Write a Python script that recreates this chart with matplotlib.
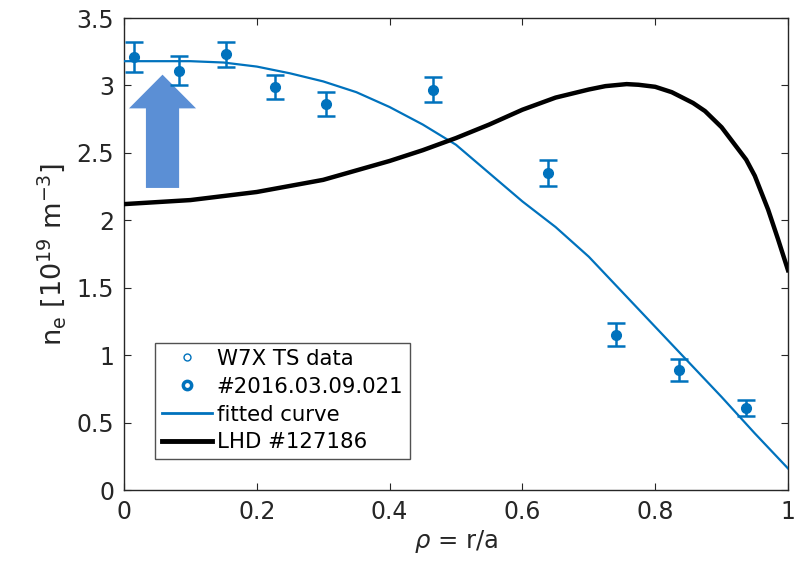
#!/usr/bin/env python3
"""W7X Thomson scattering density profile vs LHD reference profile."""
import matplotlib
matplotlib.use("Agg")
import matplotlib.pyplot as plt
from matplotlib.lines import Line2D
from matplotlib.patches import FancyArrow

rho_ts = [0.015, 0.083, 0.154, 0.227, 0.304, 0.465, 0.639, 0.741, 0.836, 0.937]
ne_ts = [3.21, 3.11, 3.23, 2.99, 2.86, 2.97, 2.35, 1.15, 0.89, 0.61]
ne_err = [0.11, 0.11, 0.095, 0.09, 0.09, 0.09, 0.095, 0.085, 0.08, 0.06]

# fitted curve
rho_fit = [0.0, 0.05, 0.1, 0.15, 0.2, 0.25, 0.3, 0.35, 0.4, 0.45, 0.5, 0.55,
           0.6, 0.65, 0.7, 0.75, 0.8, 0.85, 0.9, 0.95, 1.0]
ne_fit = [3.18, 3.18, 3.18, 3.17, 3.14, 3.09, 3.03, 2.95, 2.84, 2.71, 2.56, 2.35,
          2.14, 1.95, 1.73, 1.47, 1.21, 0.95, 0.69, 0.42, 0.16]

# LHD profile
rho_lhd = [0.0, 0.1, 0.2, 0.3, 0.4, 0.45, 0.5, 0.55, 0.6, 0.65, 0.7, 0.725,
           0.757, 0.775, 0.8, 0.825, 0.857, 0.875, 0.9, 0.937, 0.95, 0.97,
           0.985, 1.0]
ne_lhd = [2.12, 2.15, 2.21, 2.30, 2.44, 2.52, 2.61, 2.71, 2.82, 2.91, 2.97, 2.995,
          3.01, 3.005, 2.99, 2.95, 2.87, 2.81, 2.69, 2.45, 2.33, 2.08,
          1.86, 1.63]

xticks = [0, 0.2, 0.4, 0.6, 0.8, 1]
xticklabels = ["0", "0.2", "0.4", "0.6", "0.8", "1"]
yticks = [0, 0.5, 1, 1.5, 2, 2.5, 3, 3.5]
yticklabels = ["0", "0.5", "1", "1.5", "2", "2.5", "3", "3.5"]

BLUE = "#0072BD"
AXC = "#262626"

plt.rcParams["font.family"] = ["DejaVu Sans"]
plt.rcParams["mathtext.fontset"] = "dejavusans"

fig = plt.figure(figsize=(7.97, 5.67), dpi=100)
ax = fig.add_axes([0.1556, 0.1358, 0.8331, 0.8324])

ax.plot(rho_fit, ne_fit, color=BLUE, lw=1.6, zorder=3)
ax.plot(rho_lhd, ne_lhd, color="black", lw=3.2, zorder=3)
ax.errorbar(rho_ts, ne_ts, yerr=ne_err, fmt="o", color=BLUE, ms=7,
            elinewidth=1.8, capsize=6.5, capthick=1.8, zorder=4)

arrow = FancyArrow(0.058, 2.24, 0, 0.84, width=0.05, head_width=0.101,
                   head_length=0.25, length_includes_head=True,
                   color="#5B8FD5", lw=0, zorder=2)
ax.add_patch(arrow)

ax.set_xlim(0, 1)
ax.set_ylim(0, 3.5)
ax.set_xticks(xticks)
ax.set_xticklabels(xticklabels)
ax.set_yticks(yticks)
ax.set_yticklabels(yticklabels)
ax.tick_params(direction="in", length=5, width=0.8, top=True, right=True,
               labelsize=17, colors=AXC, pad=7)
for sp in ax.spines.values():
    sp.set_color(AXC)
    sp.set_linewidth(1.0)

ax.set_xlabel(r"$\rho$ = r/a", fontsize=17.5, color=AXC, labelpad=3)
ax.set_ylabel(r"n$_\mathregular{e}$ [10$^\mathregular{19}$ m$^\mathregular{-3}$]",
              fontsize=19.5, color=AXC, labelpad=6)

handles = [
    Line2D([], [], ls="none", marker="o", ms=5, mfc="white", mec=BLUE, mew=1.0),
    Line2D([], [], ls="none", marker="o", ms=6, mfc="white", mec=BLUE, mew=2.5),
    Line2D([], [], color=BLUE, lw=2),
    Line2D([], [], color="black", lw=3.5),
]
labels = ["W7X TS data", "#2016.03.09.021", "fitted curve", "LHD #127186"]
leg = ax.legend(handles, labels, loc="lower left",
                bbox_to_anchor=(0.047, 0.066), fontsize=15.3, frameon=True,
                fancybox=False, edgecolor=AXC, handlelength=2.35,
                handletextpad=0.24, labelspacing=0.37, borderpad=0.3,
                borderaxespad=0)
leg.get_frame().set_linewidth(1.0)

fig.savefig("out.png", dpi=100)
print("wrote out.png")
